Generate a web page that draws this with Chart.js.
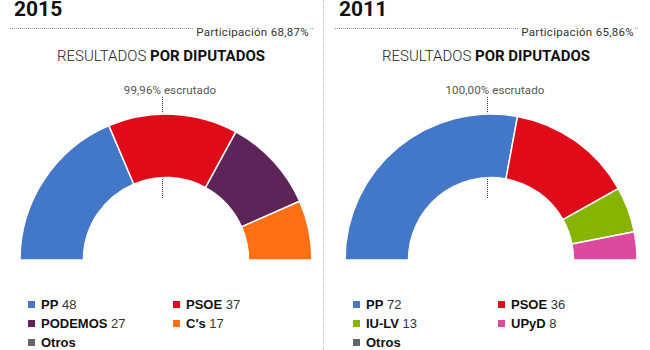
<!DOCTYPE html>
<html>
<head>
<meta charset="utf-8">
<script src="https://cdn.jsdelivr.net/npm/chart.js@4/dist/chart.umd.min.js"></script>
<style>
  html, body { margin:0; padding:0; background:#fff; width:650px; height:350px; overflow:hidden; }
  .panel { position:absolute; top:0; width:325px; height:350px; }
  .year { position:absolute; left:14px; top:-3px; font:bold 21px Roboto, sans-serif; color:#111; }
  .hr { position:absolute; left:10px; top:28px; width:303px; border-top:1px dotted #999; }
  .part { position:absolute; right:16px; top:25px; font:11.5px Roboto, sans-serif; color:#333; background:#fff; padding-left:3px; letter-spacing:0.3px; }
  .title { position:absolute; left:0; width:322px; top:47px; text-align:center; font:300 15px Roboto, sans-serif; color:#222; }
  .title b { font-weight:700; color:#111; }
  .escr { position:absolute; left:0; width:340px; top:83px; text-align:center; font:11.5px Roboto, sans-serif; color:#555; letter-spacing:0.1px; }
  .vline { position:absolute; left:162px; top:97px; height:101px; border-left:1px dotted #333; }
  .cw { position:absolute; left:16px; top:112px; width:300px; height:150px; }
  .leg { position:absolute; font:13px "Liberation Sans", Arial, sans-serif; color:#333; white-space:nowrap; }
  .leg .sq { display:inline-block; width:7px; height:7px; margin-right:6px; vertical-align:1px; }
  .leg b { color:#111; }
  .sep { position:absolute; left:323px; top:0; height:350px; border-left:1px dotted #bbb; }
</style>
</head>
<body>
<div class="sep"></div>
<script>
// ---- data ----
const years = ["2015", "2011"];
const participation = ["Participación 68,87%", "Participación 65,86%"];
const scrutinized = ["99,96% escrutado", "100,00% escrutado"];
const parties2015 = ["PP", "PSOE", "PODEMOS", "C's"];
const seats2015 = [48, 37, 27, 17];
const colors2015 = ["#4377c8", "#e00b19", "#5c2459", "#ff6f13"];
const parties2011 = ["PP", "PSOE", "IU-LV", "UPyD"];
const seats2011 = [72, 36, 13, 8];
const colors2011 = ["#4377c8", "#e00b19", "#86b400", "#dc4aa0"];
const otherLabel = "Otros";
const otherColor = "#666666";

const panels = [
  {year: years[0], part: participation[0], escr: scrutinized[0], labels: parties2015, data: seats2015, colors: colors2015},
  {year: years[1], part: participation[1], escr: scrutinized[1], labels: parties2011, data: seats2011, colors: colors2011}
];

panels.forEach((p, i) => {
  const el = document.createElement('div');
  el.className = 'panel';
  el.style.left = (i * 325) + 'px';
  el.innerHTML =
    '<div class="year">' + p.year + '</div>' +
    '<div class="hr"></div>' +
    '<div class="part">' + p.part + '</div>' +
    '<div class="title">RESULTADOS <b>POR DIPUTADOS</b></div>' +
    '<div class="escr">' + p.escr + '</div>' +
    '<div class="vline"></div>' +
    '<div class="cw"><canvas></canvas></div>';
  // legend
  const legendItems = p.labels.map((l, k) => ({name: l, val: p.data[k], color: p.colors[k]}));
  legendItems.push({name: otherLabel, val: null, color: otherColor});
  legendItems.forEach((it, k) => {
    const d = document.createElement('div');
    d.className = 'leg';
    d.style.left = (k % 2 === 0 ? 28 : 173) + 'px';
    d.style.top = (297 + Math.floor(k / 2) * 19) + 'px';
    d.innerHTML = '<span class="sq" style="background:' + it.color + '"></span><b>' + it.name + '</b>' + (it.val !== null ? ' ' + it.val : '');
    el.appendChild(d);
  });
  document.body.appendChild(el);

  const ctx = el.querySelector('canvas');
  new Chart(ctx, {
    type: 'doughnut',
    data: {
      labels: p.labels,
      datasets: [{
        data: p.data,
        backgroundColor: p.colors,
        borderColor: '#ffffff',
        borderWidth: 1.5
      }]
    },
    options: {
      responsive: true,
      maintainAspectRatio: false,
      animation: false,
      rotation: -90,
      circumference: 180,
      radius: 146,
      cutout: '56.5%',
      layout: { padding: 0 },
      plugins: { legend: { display: false }, tooltip: { enabled: false } }
    }
  });
});
</script>
</body>
</html>
